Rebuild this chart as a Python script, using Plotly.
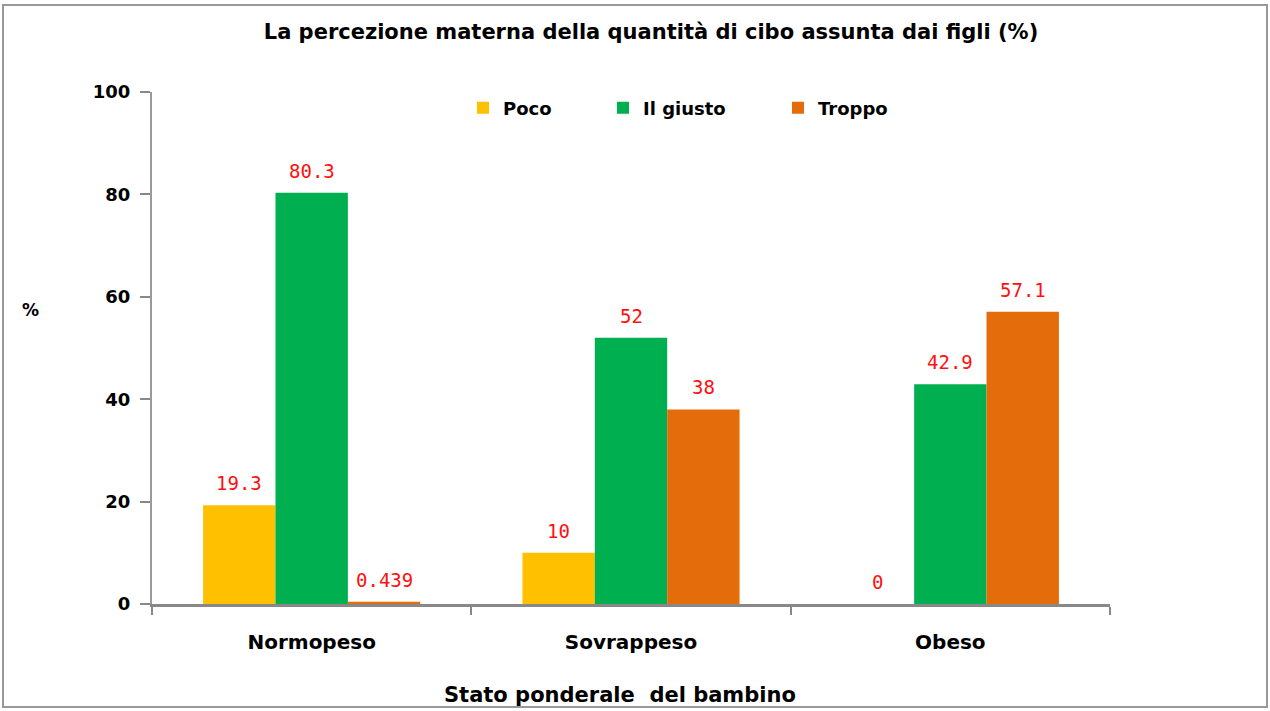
import plotly.graph_objects as go

categories = ["Normopeso", "Sovrappeso", "Obeso"]
series_names = ["Poco", "Il giusto", "Troppo"]
poco = [19.3, 10, 0]
giusto = [80.3, 52, 42.9]
troppo = [0.439, 38, 57.1]
colors = ["#FFC000", "#00B050", "#E46C0A"]
y_ticks = [0, 20, 40, 60, 80, 100]

W, H = 1270, 711
ml, mr, mt, mb = 152, 160, 92, 107
pw = W - ml - mr
ph = H - mt - mb
bargap = 0.32
bw = (1 - bargap) / 3

legend_left_px = [463, 603, 778]
legend_names = ["legend", "legend2", "legend3"]

fig = go.Figure()
all_series = [poco, giusto, troppo]
for j, (name, vals, col) in enumerate(zip(series_names, all_series, colors)):
    fig.add_trace(go.Bar(
        x=categories, y=vals, name=name, marker_color=col, marker_line_width=0,
        legend=legend_names[j],
    ))
    for i, v in enumerate(vals):
        fig.add_annotation(
            x=i + (j - 1) * bw, y=v, xref="x", yref="y", text=f"{v:g}",
            showarrow=False, yanchor="bottom", yshift=9,
            font=dict(family="DejaVu Sans Mono", size=19, color="#FF1010"),
        )

leg_common = dict(orientation="h", xanchor="left", yanchor="middle",
                  y=1 - (108 - mt) / ph, itemwidth=30, bgcolor="rgba(0,0,0,0)",
                  font=dict(family="DejaVu Sans", size=18, color="#000000", weight="bold"))
legends = {}
for ln, lx in zip(legend_names, legend_left_px):
    legends[ln] = dict(leg_common, x=(lx - ml) / pw)

fig.update_layout(
    width=W, height=H,
    margin=dict(l=ml, r=mr, t=mt, b=mb),
    paper_bgcolor="white", plot_bgcolor="white",
    barmode="group", bargap=bargap, bargroupgap=0,
    title=dict(text="La percezione materna della quantità di cibo assunta dai figli (%)",
               x=651 / W, xanchor="center", y=1 - 32 / H, yanchor="middle",
               font=dict(family="DejaVu Sans", size=21, color="#000000", weight="bold")),
    showlegend=True,
    **legends,
)
fig.update_yaxes(
    range=[0, 100], tickvals=y_ticks, ticks="outside", ticklen=10, tickcolor="#888888", tickwidth=2,
    showline=True, linecolor="#999999", linewidth=2, showgrid=False, zeroline=False,
    tickfont=dict(family="DejaVu Sans", size=18, color="#000000", weight="bold"),
    ticklabelstandoff=6,
)
fig.update_xaxes(
    showline=True, linecolor="#888888", linewidth=3, ticks="outside", tickson="boundaries",
    ticklen=8, tickcolor="#888888", tickwidth=2, showgrid=False,
    tickfont=dict(family="DejaVu Sans", size=20, color="#000000", weight="bold"),
    ticklabelstandoff=18,
)
fig.add_annotation(text="%", xref="paper", yref="paper", x=(20 - ml) / pw, y=1 - (310 - mt) / ph,
                   showarrow=False, font=dict(family="DejaVu Sans", size=17, color="#000000", weight="bold"))
fig.add_annotation(text="Stato ponderale  del bambino", xref="paper", yref="paper",
                   x=(620 - ml) / pw, y=-(695 - (mt + ph)) / ph, yanchor="middle",
                   showarrow=False, font=dict(family="DejaVu Sans", size=21, color="#000000", weight="bold"))
fig.add_shape(type="rect", xref="paper", yref="paper",
              x0=(3 - ml) / pw, x1=(1267 - ml) / pw, y0=-(707 - (mt + ph)) / ph, y1=1 + (mt - 5) / ph,
              line=dict(color="#999999", width=2), fillcolor="rgba(0,0,0,0)", layer="below")

fig.write_html("out.html", config={"displayModeBar": False},
               post_script="document.body.style.margin='0';")
